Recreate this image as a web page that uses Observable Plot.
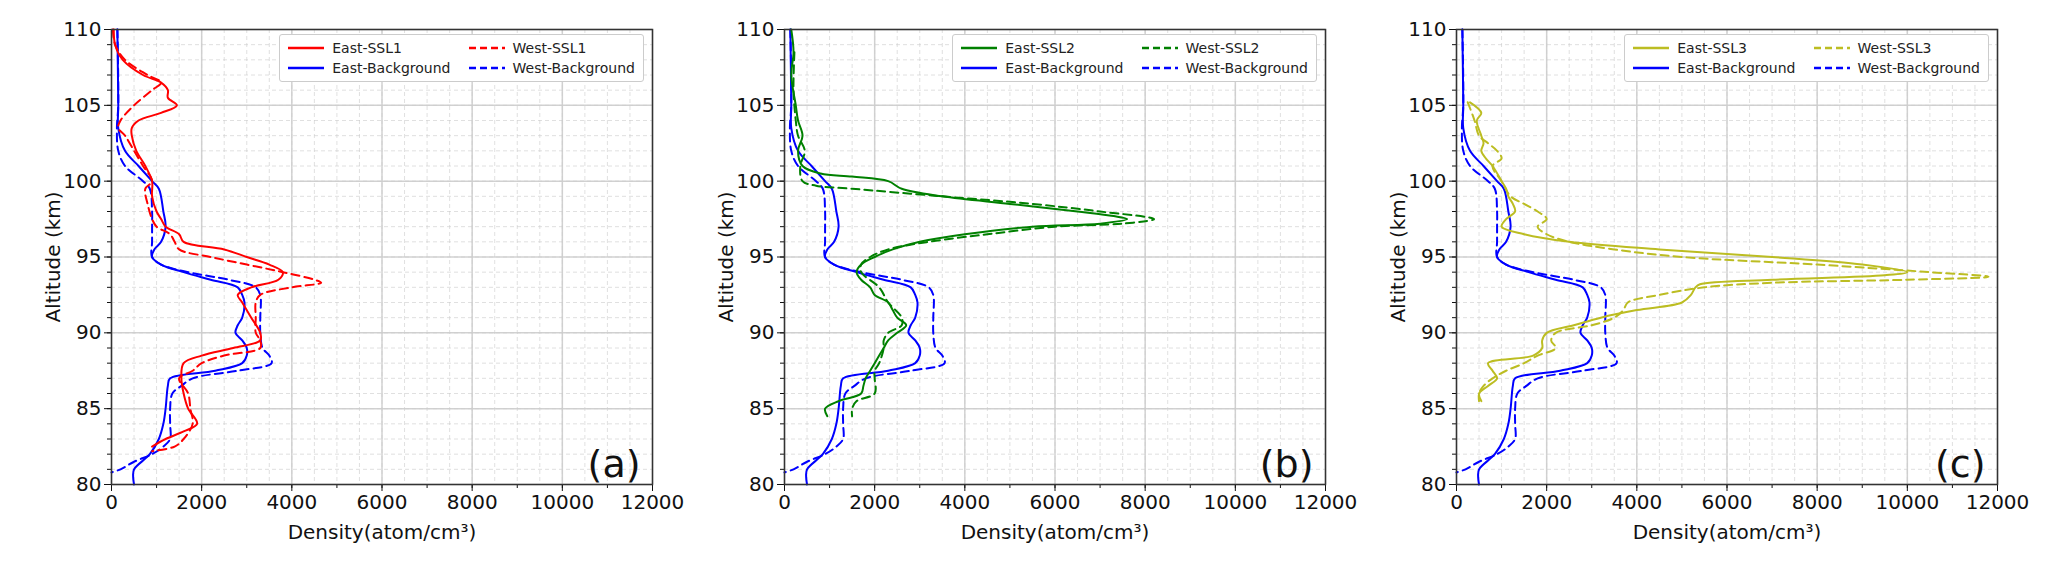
<!DOCTYPE html>
<html><head><meta charset="utf-8">
<script src="https://cdn.jsdelivr.net/npm/d3@7"></script>
<script src="https://cdn.jsdelivr.net/npm/@observablehq/plot@0.6"></script>
<style>
body{margin:0;background:#fff;font-family:"DejaVu Sans",sans-serif;}
#wrap{display:flex;width:2067px;height:570px;}
.panel{position:relative;width:689px;height:570px;}
.legend{position:absolute;top:34px;background:#fff;border:1px solid #ccc;border-radius:3px;padding:5px 8px;display:grid;grid-template-columns:auto auto;column-gap:18px;row-gap:4px;font-size:14px;color:#222;}
.legend div{display:flex;align-items:center;gap:8px;}
</style></head><body><div id="wrap"></div>
<script>
// East / West background (same in all panels)
const ebgAlt=[110,105,103.5,102,101,100,99.5,98,97,96,95.5,95,94.5,94,93.5,93,92.5,92,91,90.5,90,89.5,89,88.5,88,87.5,87,86.5,85,84,83,82,81,80.5,80];
const ebgVal=[130,150,150,300,600,900,1050,1150,1200,1100,950,900,1100,1600,2200,2800,2900,2950,2900,2800,2750,2900,3000,3000,2900,2300,1300,1250,1200,1150,1050,850,500,480,500];
const wbgAlt=[110,105,103.5,102,101,100,99.5,98,97,96,95,94.5,94,93.5,93,92.5,91,90,89,88.5,88,87.5,87,86.5,86,85,84,83,82.5,82,81.5,81,80.8];
const wbgVal=[130,150,120,150,300,700,850,900,900,900,900,1100,1700,2600,3200,3300,3300,3300,3350,3500,3550,2800,1800,1550,1350,1300,1300,1300,1150,900,500,200,0];
// SSL1
const e1Alt=[110,109,108,107,106.5,106,105.5,105,104.5,104,103.5,103,102,101,100,99,98,97.5,97,96.5,96,95.5,95,94.5,94,93.5,93,92.5,92,91,90,89.5,89,88.5,88,87,86,85,84,83.5,83,82.5];
const e1Val=[50,80,250,700,1100,1250,1250,1450,1100,600,450,450,550,750,900,900,1000,1100,1200,1500,1600,2500,3000,3500,3800,3700,3100,2800,2900,3100,3300,3300,2700,2000,1600,1550,1600,1700,1900,1600,1200,900];
const w1Alt=[110,109,108,107,106.5,106,105,104,103.5,103,102,101,100,99.5,98.5,97.5,97,96.5,96,95.5,95,94.5,94,93.5,93.3,93,92.5,92,91,90,89.5,89,88.5,88,87.5,87,86,85,84,83,82.5,82.2];
const w1Val=[30,80,300,800,1100,900,500,200,150,300,500,700,900,750,800,900,1000,1300,1400,1500,2200,3000,3800,4500,4650,4000,3300,3200,3200,3200,3300,3300,2500,2000,1800,1500,1700,1750,1800,1600,1400,900];
// SSL2
const e2Alt=[110,108.5,107,105,104,103,102,101,100.5,100.3,100,99.5,99,98.5,98,97.7,97.5,97.2,97,96.5,96,95.5,95,94.5,94,93.5,93,92.5,92,91.5,91,90.5,90,89.5,89,88.5,88,87.5,87,86.5,86,85.5,85,84.5];
const e2Val=[150,200,150,250,300,400,300,400,800,1500,2300,2600,3500,5000,6500,7300,7600,7000,5500,4000,3000,2400,2000,1700,1600,1700,1900,2000,2300,2400,2500,2700,2500,2300,2200,2100,2000,1900,1800,1750,1700,1200,900,950];
const w2Alt=[108.5,106,104,103,102,101,100,99.7,99.5,99,98.5,98,97.5,97.2,97,96.5,96,95.5,95,94.5,94,93,92,91,90.5,90,89.5,89,88,87.5,87,86,85.5,85,84.5];
const w2Val=[220,200,250,300,450,350,400,700,1500,3500,5500,7000,8200,7500,6000,4500,3200,2300,1900,1700,1700,2100,2300,2600,2600,2300,2200,2200,2100,2000,2000,2000,1600,1500,1500];
// SSL3
const e3Alt=[105.2,104.5,104,103,102.5,102,101.5,101,100,99.5,99,98.5,98,97.5,97,96.5,96,95.5,95,94.5,94,93.8,93.5,93.2,93,92.5,92,91.5,91,90.5,90,89.5,89,88.5,88,87.5,87,86.5,86,85.5];
const e3Val=[300,550,450,550,600,550,650,800,1000,1100,1150,1250,1300,1100,1000,1500,2500,4500,7000,9000,10000,9500,7000,5400,5300,5200,5000,4000,3200,2600,2000,1900,1900,1700,700,800,900,700,500,550];
const w3Alt=[105.2,104,103,102.5,102,101.5,101,100,99,98.5,98,97.5,97,96.5,96,95.5,95,94.5,94,93.7,93.5,93.3,93,92.5,92,91.5,91,90.5,90,89.5,89,88.5,88,87.5,87,86.5,86,85.5];
const w3Val=[250,400,500,700,900,1000,800,1000,1200,1500,1800,2000,1800,2000,2500,3500,5000,8000,10500,11800,10000,7000,5500,4500,3800,3700,3500,3000,2200,2100,2200,1800,1500,1100,800,600,500,500];

const xTicks=[0,2000,4000,6000,8000,10000,12000];
const yTicks=[80,85,90,95,100,105,110];
const rows=(a,v)=>a.map((y,i)=>({y,x:v[i]}));
const panels=[
 {label:"(a)",color:"#ff0000",name:"SSL1",e:rows(e1Alt,e1Val),w:rows(w1Alt,w1Val),ml:111,mr:37},
 {label:"(b)",color:"#008000",name:"SSL2",e:rows(e2Alt,e2Val),w:rows(w2Alt,w2Val),ml:95,mr:53},
 {label:"(c)",color:"#bcbd22",name:"SSL3",e:rows(e3Alt,e3Val),w:rows(w3Alt,w3Val),ml:78,mr:70}
];
const eb=rows(ebgAlt,ebgVal), wb=rows(wbgAlt,wbgVal);
const wrap=document.getElementById("wrap");
const sw=(c,d)=>`<svg width="36" height="10"><line x1="0" y1="5" x2="36" y2="5" stroke="${c}" stroke-width="2.5" ${d?'stroke-dasharray="7,4"':''}/></svg>`;
const cv="catmull-rom";
for(const p of panels){
  const div=document.createElement("div");div.className="panel";
  const plot=Plot.plot({
    width:689,height:570,marginTop:29,marginBottom:86,marginLeft:p.ml,marginRight:p.mr,
    style:{fontFamily:"DejaVu Sans",fontSize:"20px",color:"#111"},
    x:{domain:[0,12000]},y:{domain:[80,110]},
    marks:[
      Plot.gridX(d3.range(0,12001,500),{stroke:"#ccc",strokeOpacity:0.6,strokeDasharray:"4,3"}),
      Plot.gridY(d3.range(80,111,1),{stroke:"#ccc",strokeOpacity:0.6,strokeDasharray:"4,3"}),
      Plot.gridX(xTicks,{stroke:"#ccc",strokeOpacity:0.9,strokeWidth:1.5}),
      Plot.gridY(yTicks,{stroke:"#ccc",strokeOpacity:0.9,strokeWidth:1.5}),
      Plot.axisX(d3.range(0,12001,1000),{tickSize:4,text:null,label:null}),
      Plot.axisY(d3.range(80,111,1),{tickSize:4,text:null,label:null}),
      Plot.axisX(xTicks,{tickSize:7,fontSize:20,tickFormat:"d",label:"Density(atom/cm³)",labelAnchor:"center",labelOffset:54,labelArrow:"none"}),
      Plot.axisY(yTicks,{tickSize:7,fontSize:20,tickFormat:"d",label:"Altitude (km)",labelAnchor:"center",labelOffset:66,labelArrow:"none"}),
      Plot.line(wb,{x:"x",y:"y",stroke:"#0000ff",strokeWidth:2,strokeDasharray:"8,5",curve:cv}),
      Plot.line(eb,{x:"x",y:"y",stroke:"#0000ff",strokeWidth:2,curve:cv}),
      Plot.line(p.w,{x:"x",y:"y",stroke:p.color,strokeWidth:2,strokeDasharray:"8,5",curve:cv}),
      Plot.line(p.e,{x:"x",y:"y",stroke:p.color,strokeWidth:2,curve:cv}),
      Plot.frame({stroke:"#333",strokeWidth:1.5}),
      Plot.text([p.label],{frameAnchor:"bottom-right",dx:-12,dy:-8,fontSize:38,fill:"#111"})
    ]
  });
  div.appendChild(plot);
  const lg=document.createElement("div");lg.className="legend";
  lg.style.right=(p.mr+8)+"px";
  lg.innerHTML=`<div>${sw(p.color,false)}East-${p.name}</div><div>${sw(p.color,true)}West-${p.name}</div><div>${sw("#0000ff",false)}East-Background</div><div>${sw("#0000ff",true)}West-Background</div>`;
  div.appendChild(lg);
  wrap.appendChild(div);
}
</script></body></html>
